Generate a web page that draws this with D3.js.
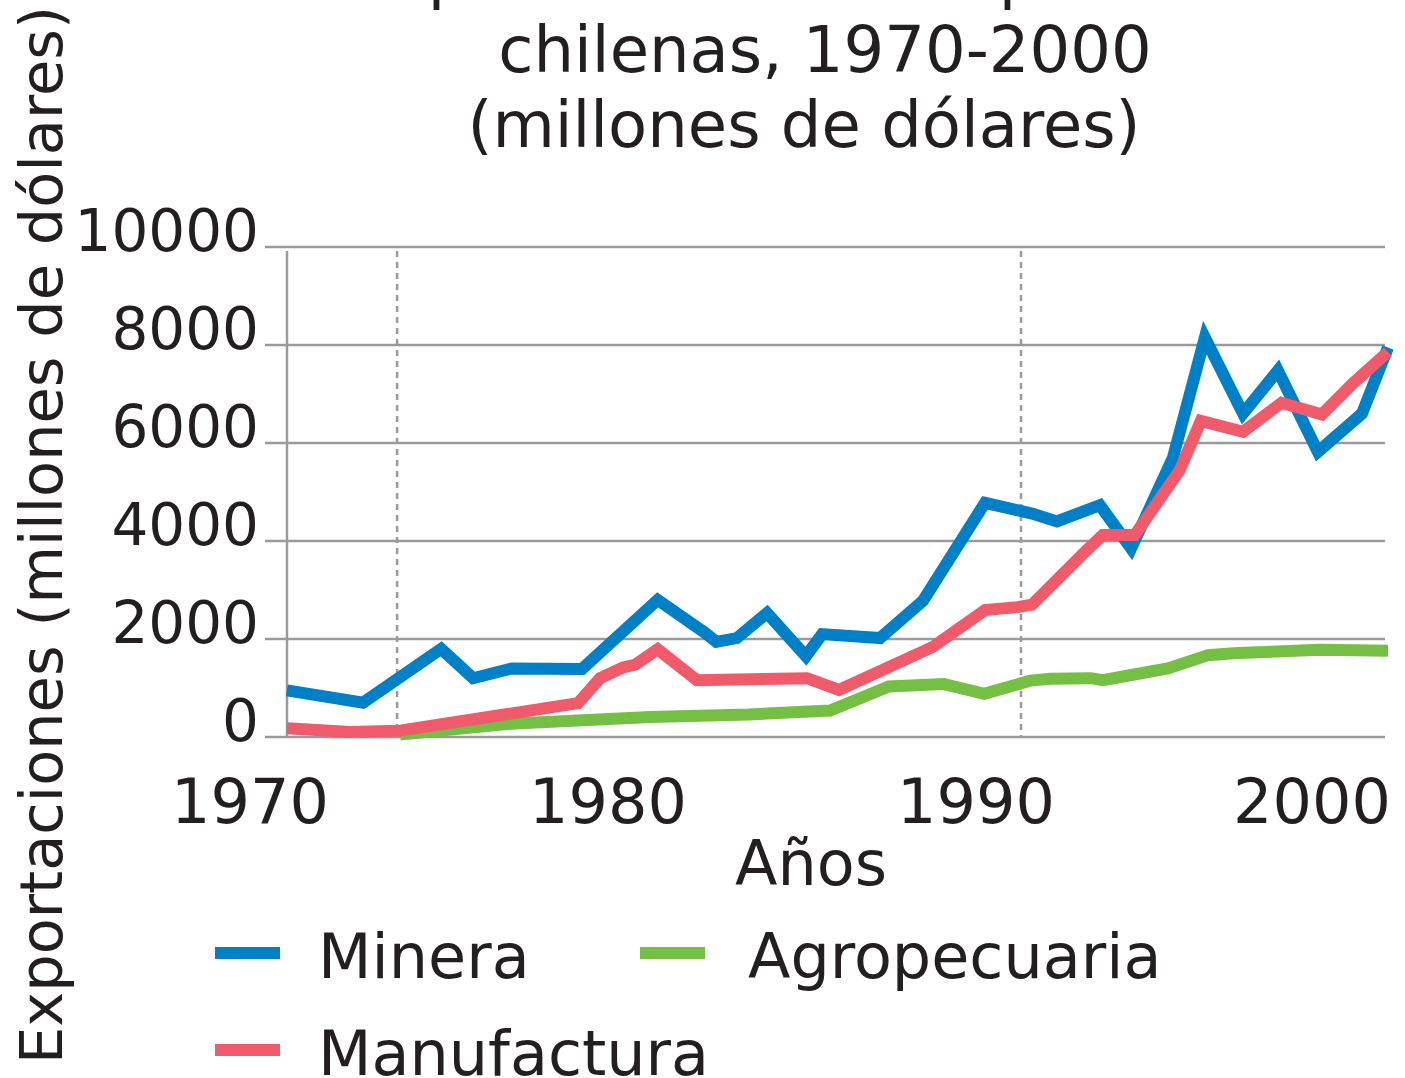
<!DOCTYPE html>
<html>
<head>
<meta charset="utf-8">
<script src="https://cdn.jsdelivr.net/npm/d3@7"></script>
<style>
  html, body { margin: 0; padding: 0; background: #fff; }
  svg { display: block; }
  text { font-family: "DejaVu Sans", Verdana, sans-serif; fill: #231f20; }
</style>
</head>
<body>
<svg id="chart" width="1405" height="1078"></svg>
<script>
// ---- data ----
const titleLines = ["Composición de las exportaciones", "chilenas, 1970-2000", "(millones de dólares)"];
const yAxisTitle = "Exportaciones (millones de dólares)";
const xAxisTitle = "Años";
const xTickLabels = [1970, 1980, 1990, 2000];
const yTickValues = [0, 2000, 4000, 6000, 8000, 10000];
const markerYears = [1973, 1990];
const seriesNames = ["Minera", "Manufactura", "Agropecuaria"];

const mineraYears  = [1970, 1972.07, 1974.2, 1975.07, 1976.13, 1978.04, 1980.1, 1981.4, 1981.7, 1982.26, 1983.08, 1984.14, 1984.58, 1986.16, 1987.33, 1989.02, 1990.3, 1990.98, 1992.15, 1993.0, 1994.14, 1995.01, 1996.05, 1997.0, 1998.09, 1999.29, 2000];
const mineraValues = [950, 700, 1800, 1200, 1400, 1390, 2800, 2120, 1940, 2020, 2530, 1650, 2100, 2020, 2780, 4780, 4560, 4400, 4730, 3850, 5700, 8150, 6600, 7480, 5820, 6600, 7950];

const manufYears  = [1970, 1971.72, 1973.08, 1977.93, 1978.53, 1979.16, 1979.5, 1980.1, 1981.17, 1984.17, 1985.04, 1987.6, 1989.02, 1989.9, 1990.3, 1991.8, 1992.23, 1993.1, 1994.33, 1994.9, 1996.05, 1997.1, 1998.2, 1999.05, 2000];
const manufValues = [180, 100, 130, 690, 1200, 1420, 1480, 1790, 1160, 1200, 960, 1840, 2590, 2650, 2700, 3820, 4120, 4120, 5450, 6450, 6230, 6820, 6580, 7220, 7860];

const agroYears  = [1973.08, 1976.08, 1979.9, 1982.6, 1984.8, 1986.4, 1987.9, 1989.0, 1990.25, 1990.8, 1991.9, 1992.23, 1993.05, 1994.0, 1995.1, 1995.8, 1998.15, 2000];
const agroValues = [50, 270, 410, 460, 540, 1030, 1080, 880, 1150, 1190, 1200, 1160, 1270, 1400, 1670, 1710, 1780, 1760];

const colors = ["#0080c6", "#ef5b6a", "#74bf44"];

// ---- chart ----
const svg = d3.select("#chart");
const x = d3.scaleLinear().domain([1970, 2000]).range([287, 1388]);
const y = d3.scaleLinear().domain([0, 10000]).range([737, 247]);
// tick labels in the original sit left of their data positions
const xLabel = d3.scaleLinear().domain([1970, 1980, 1990, 2000]).range([250, 608, 976, 1312]);

const gridColor = "#9a9a9a";

// title
svg.append("g").selectAll("text").data(titleLines).join("text")
  .attr("x", (d, i) => [828, 825, 804][i])
  .attr("y", (d, i) => -3 + i * 75)
  .attr("text-anchor", "middle")
  .attr("font-size", 64)
  .text(d => d);

// horizontal gridlines
svg.append("g").selectAll("line").data(yTickValues).join("line")
  .attr("x1", 265).attr("x2", 1385)
  .attr("y1", d => y(d)).attr("y2", d => y(d))
  .attr("stroke", gridColor).attr("stroke-width", 2.5);

// left axis line
svg.append("line")
  .attr("x1", x(1970)).attr("x2", x(1970))
  .attr("y1", y(10000) + 4).attr("y2", y(0))
  .attr("stroke", gridColor).attr("stroke-width", 2.5);

// dotted markers
svg.append("g").selectAll("line").data(markerYears).join("line")
  .attr("x1", d => x(d)).attr("x2", d => x(d))
  .attr("y1", y(10000) + 4).attr("y2", y(0))
  .attr("stroke", gridColor).attr("stroke-width", 2.5)
  .attr("stroke-dasharray", "6,5");

// y tick labels
svg.append("g").selectAll("text").data(yTickValues).join("text")
  .attr("x", 259)
  .attr("y", d => y(d) + 4)
  .attr("text-anchor", "end")
  .attr("font-size", 58)
  .text(d => d);

// x tick labels
svg.append("g").selectAll("text").data(xTickLabels).join("text")
  .attr("x", d => xLabel(d))
  .attr("y", 823)
  .attr("text-anchor", "middle")
  .attr("font-size", 62)
  .text(d => d);

// axis titles
svg.append("text")
  .attr("x", 811).attr("y", 885)
  .attr("text-anchor", "middle")
  .attr("font-size", 62)
  .text(xAxisTitle);

svg.append("text")
  .attr("transform", "translate(62,535) rotate(-90)")
  .attr("text-anchor", "middle")
  .attr("font-size", 59)
  .text(yAxisTitle);

// lines
const line = d3.line().x(d => x(d[0])).y(d => y(d[1])).curve(d3.curveLinear);
const series = [
  d3.zip(mineraYears, mineraValues),
  d3.zip(manufYears, manufValues),
  d3.zip(agroYears, agroValues)
];
const drawOrder = [2, 0, 1];
svg.append("g").selectAll("path").data(drawOrder).join("path")
  .attr("d", i => line(series[i]))
  .attr("fill", "none")
  .attr("stroke", i => colors[i])
  .attr("stroke-width", 12)
  .attr("stroke-linejoin", "miter")
  .attr("stroke-miterlimit", 6);

// legend
const legendPos = [[215, 953], [215, 1050], [640, 953]];
const lg = svg.append("g").selectAll("g").data(seriesNames).join("g")
  .attr("transform", (d, i) => `translate(${legendPos[i][0]},${legendPos[i][1]})`);
lg.append("line")
  .attr("x1", 0).attr("x2", 65).attr("y1", 0).attr("y2", 0)
  .attr("stroke", (d, i) => colors[i]).attr("stroke-width", 12);
lg.append("text")
  .attr("x", (d, i) => i === 2 ? 108 : 103)
  .attr("y", 25)
  .attr("font-size", 62)
  .text(d => d);
</script>
</body>
</html>
